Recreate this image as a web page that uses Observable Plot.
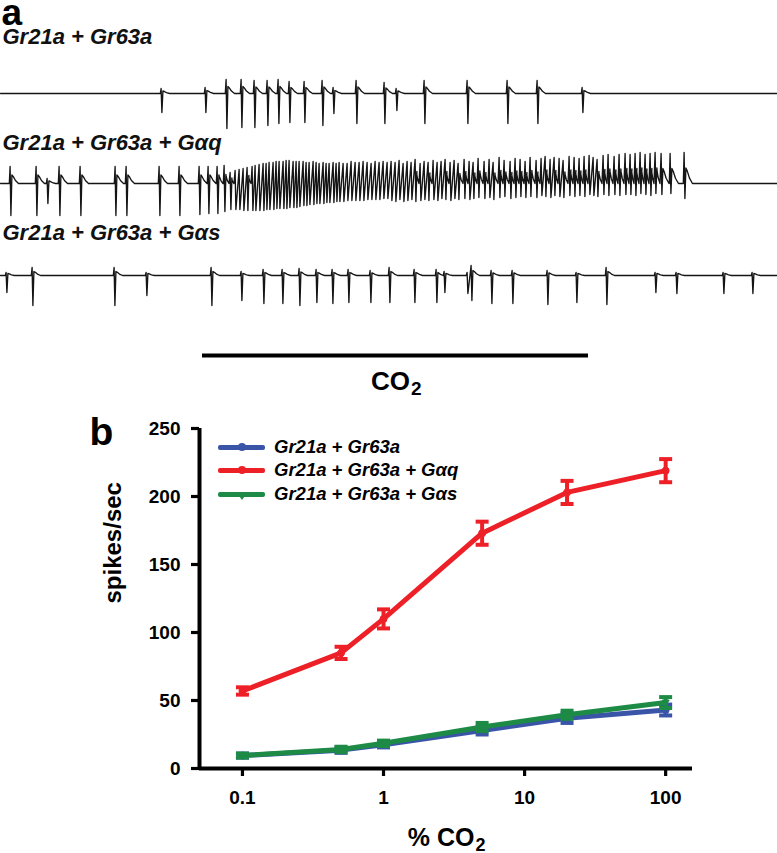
<!DOCTYPE html>
<html>
<head>
<meta charset="utf-8">
<script src="https://cdn.jsdelivr.net/npm/d3@7"></script>
<script src="https://cdn.jsdelivr.net/npm/@observablehq/plot@0.6"></script>
<style>
  body { margin: 0; background: #fff; }
  #wrap { position: relative; width: 777px; height: 853px; font-family: "Liberation Sans", Arial, sans-serif; color: #000; }
  #wrap svg { display: block; }
  #panelB { position: relative; }
  #panelB svg [aria-label^="x-axis"] line, #panelB svg [aria-label^="x-axis"] path,
  #panelB svg [aria-label^="y-axis"] line, #panelB svg [aria-label^="y-axis"] path { stroke-width: 3.2px; }
  .lg-row { position: absolute; left: 218px; height: 22px; display: flex; align-items: center; }
  .lg-sw { position: relative; width: 47px; height: 5px; border-radius: 2px; margin-right: 9px; }
  .lg-dot { position: absolute; left: 20px; top: -1.5px; width: 8px; height: 8px; border-radius: 50%; }
  .lg-tri { position: absolute; left: 19px; top: 1px; width: 0; height: 0; border-left: 5px solid transparent; border-right: 5px solid transparent; }
  .lg-tx { font: italic bold 18.5px "Liberation Sans", Arial, sans-serif; white-space: nowrap; }
</style>
</head>
<body>
<div id="wrap">
  <div id="panelA"></div>
  <div id="panelB"></div>
</div>
<script>
// ---------------- DATA ----------------
// Panel a: spike times (trace time units), upward and downward spike amplitudes (a.u.)
const traceNames = ["Gr21a + Gr63a", "Gr21a + Gr63a + Gαq", "Gr21a + Gr63a + Gαs"];
const traceEnd = 777;

const t1Times = [161, 205, 226, 241, 254, 267, 278, 289, 304, 322, 333, 356, 384, 396, 424, 467, 507, 537, 582];
const t1Up    = [5, 6, 14, 14, 13, 13, 14, 12, 12, 13, 6, 13, 11, 5, 13, 13, 13, 13, 6];
const t1Down  = [19, 19, 35, 34, 34, 32, 30, 29, 29, 32, 20, 30, 30, 17, 30, 30, 30, 30, 19];

const t2Times = [10, 36, 47, 59, 80, 115, 126, 159, 179, 199, 208, 217, 224,
  230, 235, 239, 243, 247, 252, 255, 259, 263, 266, 269, 273, 276, 279, 283, 286, 289, 293, 296, 299,
  303, 306, 309, 313, 316, 319, 323, 326, 329, 333, 336, 339, 343, 347, 351, 355, 359, 363, 367, 371,
  375, 379, 383, 387,
  391, 395, 399, 403, 407, 411, 415, 420, 424, 428, 433, 437, 441, 445, 450, 454, 458, 464, 469, 473,
  478, 484, 489, 493, 499, 504, 510, 515, 520, 525, 530, 536, 541, 545, 550, 554, 559, 563, 569, 574,
  579, 584, 589, 593, 597, 603, 608, 614, 619, 625, 630, 635, 640, 645, 650, 655, 661, 670, 684];
const t2Up = [17, 17, 5, 17, 17, 17, 17, 17, 17, 17, 17, 17, 18,
  11, 13, 14, 15, 16, 17, 18, 19, 20, 20, 21, 21, 22, 22, 22, 23, 23, 22, 22, 22,
  22, 21, 21, 22, 21, 20, 21, 20, 20, 21, 20, 21, 20, 20, 22, 21, 21, 22, 21, 20,
  22, 21, 22, 21,
  22, 21, 23, 20, 22, 21, 24, 20, 22, 21, 23, 21, 22, 24, 21, 23, 20, 24, 22, 21,
  25, 22, 24, 21, 26, 23, 22, 25, 24, 22, 26, 23, 25, 27, 24, 26, 25, 23, 27, 26,
  25, 27, 28, 26, 24, 28, 29, 27, 29, 30, 29, 30, 31, 29, 30, 31, 30, 30, 31];
const t2Down = [32, 32, 20, 32, 32, 32, 32, 32, 32, 31, 30, 30, 28,
  26, 26, 26, 27, 27, 27, 27, 27, 27, 26, 26, 26, 25, 25, 25, 25, 24, 24, 24, 23,
  22, 22, 21, 21, 20, 20, 20, 19, 19, 19, 18, 18, 18, 17, 17, 17, 17, 17, 16, 16,
  16, 16, 15, 15,
  17, 18, 16, 18, 17, 16, 18, 17, 16, 17, 16, 17, 15, 16, 17, 15, 16, 15, 16, 15,
  14, 15, 14, 16, 14, 13, 15, 14, 13, 14, 13, 14, 12, 13, 14, 12, 13, 14, 12, 13,
  12, 13, 11, 12, 13, 11, 12, 11, 12, 11, 11, 12, 10, 11, 12, 10, 11, 10, 15];

const t3Times = [6, 32, 114, 146, 211, 241, 263, 282, 299, 316, 332, 348, 370, 389, 414, 436, 444, 467, 471, 491, 512, 547, 576, 606, 655, 676, 723, 752];
const t3Up    = [3, 8, 8, 3, 8, 4, 6, 6, 7, 6, 6, 6, 5, 8, 6, 6, 4, 3, 10, 5, 5, 5, 3, 8, 3, 3, 3, 3];
const t3Down  = [17, 30, 30, 20, 30, 25, 28, 28, 30, 27, 28, 27, 27, 27, 27, 27, 17, 18, 25, 28, 28, 29, 27, 29, 17, 18, 18, 18];

// CO2 stimulus period (trace time units)
const stimOn = 202;
const stimOff = 588;

// Panel b: dose-response
const co2Percent = [0.1, 0.5, 1, 5, 20, 100];
const seriesNames = ["Gr21a + Gr63a", "Gr21a + Gr63a + Gαq", "Gr21a + Gr63a + Gαs"];
const meanGr = [9.5, 13.5, 17.5, 28, 37, 43];
const semGr  = [1.5, 2, 2, 3, 3.5, 4];
const meanGq = [57, 85, 110, 173, 203, 219];
const semGq  = [2.7, 4.5, 7, 8.5, 8.5, 8.5];
const meanGs = [9.5, 14, 18.5, 30.5, 39.5, 48.5];
const semGs  = [1.5, 2, 2, 3, 3, 4];
const yTicks = [0, 50, 100, 150, 200, 250];
const xTicks = [0.1, 1, 10, 100];

// ---------------- STYLE ----------------
const FONT = '"Liberation Sans", Arial, sans-serif';
const seriesColors = ["#3a55a8", "#ee2027", "#1d8b45"];

// ---------------- PANEL A ----------------
function buildTrace(times, ups, downs) {
  const pts = [{t: 0, v: 0}];
  for (let i = 0; i < times.length; i++) {
    const t = times[i], u = ups[i], d = downs[i];
    const prev = i ? times[i - 1] : -Infinity;
    const next = i < times.length - 1 ? times[i + 1] : Infinity;
    if (t - prev > 6) pts.push({t: t - 1.2, v: 0});
    pts.push({t: t - 0.4, v: u});
    pts.push({t: t + 0.4, v: -d});
    const span = Math.min(8, next - t - 1.5);
    if (span >= 3) {
      const h = Math.max(2, 0.5 * u);
      pts.push({t: t + 1.4, v: h}, {t: t + 0.35 * span, v: 0.8 * h}, {t: t + 0.62 * span, v: 0.35 * h}, {t: t + span, v: 0});
    }
  }
  pts.push({t: traceEnd, v: 0});
  return pts;
}

const traces = [
  buildTrace(t1Times, t1Up, t1Down),
  buildTrace(t2Times, t2Up, t2Down),
  buildTrace(t3Times, t3Up, t3Down)
];

// per-trace layout: svg height, y-domain (amplitude units = px), label baseline from top
const traceLayout = [
  {height: 138, domain: [-45, 93], labelDy: 43},
  {height: 90,  domain: [-45, 45], labelDy: 11},
  {height: 172, domain: [-125, 47], labelDy: 11}
];

const panelA = document.getElementById("panelA");
traces.forEach((pts, i) => {
  const L = traceLayout[i];
  const marks = [
    Plot.line(pts, {x: "t", y: "v", stroke: "#151515", strokeWidth: 1.35, strokeLinejoin: "round"}),
    Plot.text([traceNames[i]], {frameAnchor: "top-left", dx: 2, dy: L.labelDy, lineAnchor: "bottom", textAnchor: "start",
      fontSize: 22, fontWeight: "bold", fontStyle: "italic", fill: "#111"})
  ];
  if (i === 0) {
    marks.push(Plot.text(["a"], {frameAnchor: "top-left", dx: 1, dy: 24, lineAnchor: "bottom", textAnchor: "start",
      fontSize: 37, fontWeight: "bold", fill: "#000"}));
  }
  if (i === 2) {
    const stim = [{on: stimOn, off: stimOff, mid: (stimOn + stimOff) / 2}];
    marks.push(
      Plot.ruleY(stim, {x1: "on", x2: "off", y: () => -80, stroke: "#000", strokeWidth: 4}),
      Plot.text(stim, {x: "mid", text: () => "CO", frameAnchor: "bottom", dx: 14.5, dy: -11, lineAnchor: "bottom",
        textAnchor: "end", fontSize: 26, fontWeight: "bold", fill: "#000"}),
      Plot.text(stim, {x: "mid", text: () => "2", frameAnchor: "bottom", dx: 15.5, dy: -6, lineAnchor: "bottom",
        textAnchor: "start", fontSize: 19, fontWeight: "bold", fill: "#000"})
    );
  }
  panelA.append(Plot.plot({
    width: 777, height: L.height,
    marginLeft: 0, marginRight: 0, marginTop: 0, marginBottom: 0,
    x: {domain: [0, traceEnd], axis: null},
    y: {domain: L.domain, axis: null},
    style: {fontFamily: FONT, background: "#fff", overflow: "visible"},
    marks
  }));
});

// ---------------- PANEL B ----------------
const means = [meanGr, meanGq, meanGs];
const sems = [semGr, semGq, semGs];
const rows = [];
means.forEach((m, i) => co2Percent.forEach((c, j) => rows.push({series: seriesNames[i], conc: c, mean: m[j], sem: sems[i][j]})));
// draw order: red, blue, green (green over blue)
const drawOrder = [1, 0, 2];

const capSymbol = {draw(ctx, size) { const w = Math.sqrt(size / Math.PI); ctx.moveTo(-w, 0); ctx.lineTo(w, 0); }};
const triDown = {draw(ctx, size) { const w = Math.sqrt(size / Math.PI); ctx.moveTo(-w, -w * 0.7); ctx.lineTo(w, -w * 0.7); ctx.lineTo(0, w * 0.9); ctx.closePath(); }};

const xLo = 0.0496, xHi = 155;
const bMarks = [];
drawOrder.forEach(i => {
  const d = rows.filter(r => r.series === seriesNames[i]);
  bMarks.push(
    Plot.ruleX(d, {x: "conc", y1: r => r.mean - r.sem, y2: r => r.mean + r.sem, stroke: "series", strokeWidth: 4}),
    Plot.dot(d, {x: "conc", y: r => r.mean + r.sem, symbol: capSymbol, r: 6.5, stroke: "series", strokeWidth: 4}),
    Plot.dot(d, {x: "conc", y: r => r.mean - r.sem, symbol: capSymbol, r: 6.5, stroke: "series", strokeWidth: 4}),
    Plot.line(d, {x: "conc", y: "mean", stroke: "series", strokeWidth: 5}),
    Plot.dot(d, {x: "conc", y: "mean", symbol: i === 2 ? triDown : "circle", r: 3.5, fill: "series", stroke: "series", strokeWidth: 1})
  );
});
bMarks.push(
  Plot.ruleX([xLo], {y1: 0, y2: 250, stroke: "#000", strokeWidth: 4}),
  Plot.ruleY([0], {x1: xLo, x2: xHi, stroke: "#000", strokeWidth: 4}),
  Plot.text(["spikes/sec"], {frameAnchor: "left", dx: -86, dy: 5, rotate: -90, fontSize: 24, fontWeight: "bold", fill: "#000"}),
  Plot.text(["% CO"], {frameAnchor: "bottom", dx: 28.5, dy: 77, lineAnchor: "bottom", textAnchor: "end", fontSize: 25, fontWeight: "bold", fill: "#000"}),
  Plot.text(["2"], {frameAnchor: "bottom", dx: 29.5, dy: 82, lineAnchor: "bottom", textAnchor: "start", fontSize: 18, fontWeight: "bold", fill: "#000"}),
  Plot.text(["b"], {frameAnchor: "top-left", dx: -110, dy: 16, lineAnchor: "bottom", textAnchor: "start", fontSize: 39, fontWeight: "bold", fill: "#000"})
);

const panelB = document.getElementById("panelB");
panelB.append(Plot.plot({
  width: 777, height: 453,
  marginLeft: 199, marginRight: 85, marginTop: 28, marginBottom: 85,
  x: {type: "log", domain: [xLo, xHi], ticks: xTicks, tickFormat: d => String(d), tickSize: 8, tickPadding: 14, label: null},
  y: {domain: [0, 250], ticks: yTicks, tickSize: 8, tickPadding: 11, label: null},
  color: {domain: seriesNames, range: seriesColors},
  style: {fontFamily: FONT, fontSize: "19px", fontWeight: "bold", background: "#fff", color: "#000", overflow: "visible"},
  marks: bMarks
}));

// legend (HTML)
const legendCenters = [47, 70, 94];
seriesNames.forEach((name, i) => {
  const row = document.createElement("div");
  row.className = "lg-row";
  row.style.top = (legendCenters[i] - 11) + "px";
  const sw = document.createElement("span");
  sw.className = "lg-sw";
  sw.style.background = seriesColors[i];
  const mk = document.createElement("span");
  if (i === 2) { mk.className = "lg-tri"; mk.style.borderTop = "7px solid " + seriesColors[i]; }
  else { mk.className = "lg-dot"; mk.style.background = seriesColors[i]; }
  sw.append(mk);
  const tx = document.createElement("span");
  tx.className = "lg-tx";
  tx.textContent = name;
  row.append(sw, tx);
  panelB.append(row);
});
</script>
</body>
</html>
